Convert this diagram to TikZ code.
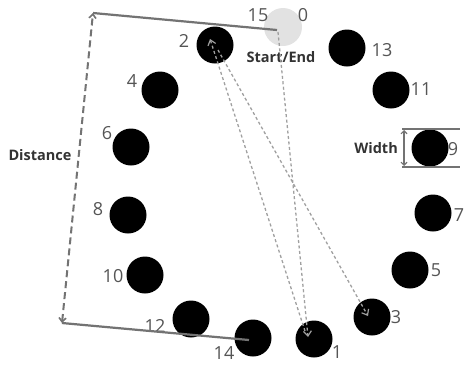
\documentclass[tikz,border=0pt]{standalone}
\usepackage{fontspec}
\setmainfont{Open Sans}
\usetikzlibrary{arrows.meta,calc}
\definecolor{numgray}{HTML}{555555}
\definecolor{labgray}{HTML}{333333}
\definecolor{linegray}{HTML}{737373}
\definecolor{pathgray}{HTML}{A0A0A0}
\definecolor{startgray}{HTML}{E2E2E2}
\tikzset{
  dot/.style={circle, fill=black, minimum size=37pt, inner sep=0pt},
  startdot/.style={circle, fill=startgray, minimum size=38pt, inner sep=0pt},
  num/.style={text=numgray, font=\fontsize{18}{18}\selectfont, inner sep=0pt},
  lab/.style={text=labgray, font=\bfseries\fontsize{14.5}{14.5}\selectfont, inner sep=0pt},
  visit/.style={pathgray, line width=1.3pt, dash pattern=on 3pt off 2.5pt,
    -{Straight Barb[length=5pt,width=8pt,line width=1.2pt]}},
  measure/.style={linegray, line width=2.2pt},
  span/.style={linegray, line width=2pt, dash pattern=on 7pt off 4pt,
    {Straight Barb[length=4pt,width=7pt,line width=1.6pt]}-{Straight Barb[length=4pt,width=7pt,line width=1.6pt]}},
  gap/.style={linegray, line width=1.6pt},
  gaparrow/.style={linegray, line width=1.1pt,
    {Straight Barb[length=3pt,width=6pt]}-{Straight Barb[length=3pt,width=6pt]}}
}
\begin{document}
\begin{tikzpicture}[x=1pt,y=-1pt]
\useasboundingbox (0,0) rectangle (465,365);

% positions on the ring
\node[startdot] (c0) at (283,27) {};
\node[dot] (c1)  at (314,339) {};
\node[dot] (c2)  at (215,45)  {};
\node[dot] (c3)  at (372,317) {};
\node[dot] (c4)  at (160,90)  {};
\node[dot] (c5)  at (410,270) {};
\node[dot] (c6)  at (131,147) {};
\node[dot] (c7)  at (433,213) {};
\node[dot] (c8)  at (128,215) {};
\node[dot] (c9)  at (430,148) {};
\node[dot] (c10) at (145,275) {};
\node[dot] (c11) at (391,90)  {};
\node[dot] (c12) at (191,319) {};
\node[dot] (c13) at (347,48)  {};
\node[dot] (c14) at (253,338) {};

% index labels
\node[num] (n0)  at (303,15)  {0};
\node[num] (n15) at (258,15)  {15};
\node[num] (n1)  at (337,352) {1};
\node[num] (n2)  at (184,41)  {2};
\node[num] (n3)  at (396,317) {3};
\node[num] (n4)  at (132,81)  {4};
\node[num] (n5)  at (436,270) {5};
\node[num] (n6)  at (107,133) {6};
\node[num] (n7)  at (459,215) {7};
\node[num] (n8)  at (98,209)  {8};
\node[num] (n9)  at (453,149) {9};
\node[num] (n10) at (113,276) {10};
\node[num] (n11) at (421,89)  {11};
\node[num] (n12) at (155,326) {12};
\node[num] (n13) at (382,50)  {13};
\node[num] (n14) at (224,353) {14};

\node[lab] (start) at (281,57) {Start/End};
\node[lab] (dist)  at (40,155) {Distance};
\node[lab,anchor=east] (wid) at (398,148) {Width};

% distance between the start and position 14
\coordinate (dtop) at (93,13);
\coordinate (dbot) at (62,323);
\draw[measure] (dtop) -- ($(c0.center)+(-6,3)$);
\draw[measure] (dbot) -- ($(c14.center)+(-4,2)$);
\draw[span] (dbot) -- (dtop);

% width of one position
\coordinate (wtl) at (402,129);
\coordinate (wtr) at (460,129);
\coordinate (wbl) at (402,167);
\coordinate (wbr) at (460,167);
\draw[gap] (wtl) -- (wtr);
\draw[gap] (wbl) -- (wbr);
\draw[gaparrow] ($(wtl)+(2,1)$) -- ($(wbl)+(2,-1)$);

% visiting order
\draw[visit] ($(c0.center)+(-5,5)$) -- ($(c1.center)+(-6,-2)$);
\draw[visit] ($(c1.center)+(-9,-8)$) -- ($(c2.center)+(-5,-6)$);
\draw[visit] ($(c2.center)+(3,5)$) -- ($(c3.center)+(-4,-1)$);
\end{tikzpicture}
\end{document}
